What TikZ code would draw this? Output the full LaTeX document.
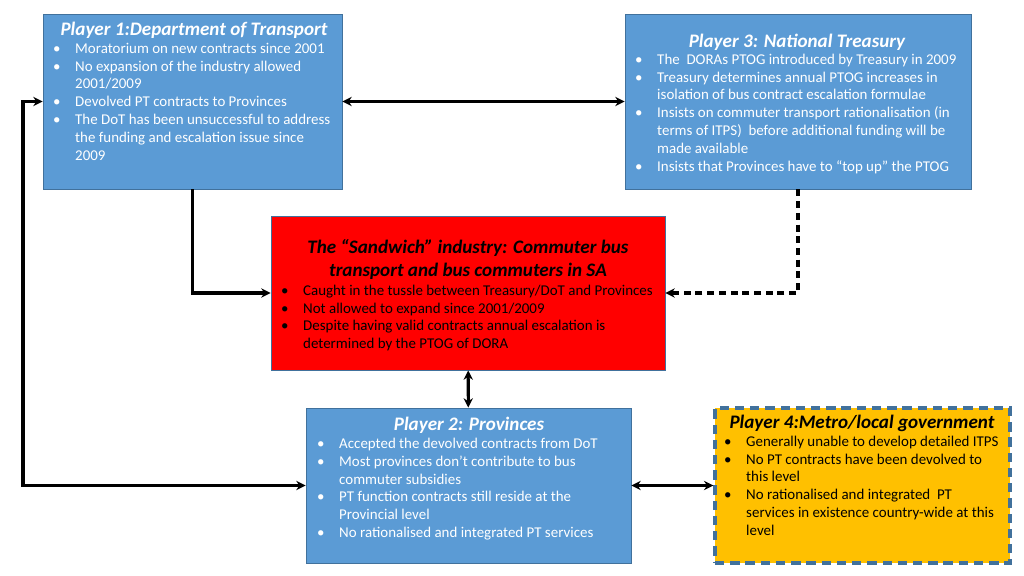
\documentclass[tikz,border=0pt]{standalone}
\usepackage{fontspec}
\setmainfont{Carlito}
\usetikzlibrary{arrows.meta}
\definecolor{boxblue}{HTML}{5B9BD5}
\definecolor{boxedge}{HTML}{41719C}
\definecolor{boxgold}{HTML}{FFC000}
\begin{document}
\begin{tikzpicture}[x=0.03cm,y=-0.03cm,
    player/.style={draw=boxedge,fill=boxblue,line width=0.7pt,inner sep=0pt},
    heading/.style={anchor=base,inner sep=0pt,align=center,
      font=\fontsize{16.3}{19.6}\selectfont\bfseries\itshape},
    points/.style={anchor=base west,inner sep=0pt,font=\fontsize{12.75}{15.36}\selectfont},
    arr/.style={line width=2.6pt,{Stealth[length=8pt,width=8pt]}-{Stealth[length=8pt,width=8pt]}},
    to/.style={line width=2.6pt,-{Stealth[length=8pt,width=8pt]}}]
  \useasboundingbox (0,0) rectangle (1024,575);
  % the four players and the industry
  \node[player,minimum width=8.97cm,minimum height=5.25cm] (p1) at (192.5,101.5) {};
  \node[player,minimum width=10.38cm,minimum height=5.25cm] (p3) at (798,101.5) {};
  \node[player,fill=red,minimum width=11.82cm,minimum height=4.62cm] (sandwich) at (468,293) {};
  \node[player,minimum width=9.75cm,minimum height=4.65cm] (p2) at (468.5,485.5) {};
  \node[player,fill=boxgold,line width=2.8pt,dash pattern=on 8pt off 5pt,
    minimum width=8.85cm,minimum height=4.65cm] (p4) at (862.5,485.5) {};
  % texts
  \node[heading,text=white] (p1title) at (194,35) {Player 1:Department of Transport};
  \node[points,text=white] (p1list) at (53,53) {\begin{tabular}[t]{@{}p{0.66cm}@{}l@{}}
    \textbullet & Moratorium on new contracts since 2001\\
    \textbullet & No expansion of the industry allowed\\
    & 2001/2009\\
    \textbullet & Devolved PT contracts to Provinces\\
    \textbullet & The DoT has been unsuccessful to address\\
    & the funding and escalation issue since\\
    & 2009
  \end{tabular}};
  \node[heading,text=white] (p3title) at (797,47) {Player 3: National Treasury};
  \node[points,text=white] (p3list) at (635,64) {\begin{tabular}[t]{@{}p{0.66cm}@{}l@{}}
    \textbullet & The\ \ DORAs PTOG introduced by Treasury in 2009\\
    \textbullet & Treasury determines annual PTOG increases in\\
    & isolation of bus contract escalation formulae\\
    \textbullet & Insists on commuter transport rationalisation (in\\
    & terms of ITPS)\ \ before additional funding will be\\
    & made available\\
    \textbullet & Insists that Provinces have to “top up” the PTOG
  \end{tabular}};
  \node[heading] (sandwichtitle) at (468,276) {The “Sandwich” industry: Commuter bus\\transport and bus commuters in SA};
  \node[points] (sandwichlist) at (281,295) {\begin{tabular}[t]{@{}p{0.66cm}@{}l@{}}
    \textbullet & Caught in the tussle between Treasury/DoT and Provinces\\
    \textbullet & Not allowed to expand since 2001/2009\\
    \textbullet & Despite having valid contracts annual escalation is\\
    & determined by the PTOG of DORA
  \end{tabular}};
  \node[heading,text=white] (p2title) at (469,430) {Player 2: Provinces};
  \node[points,text=white] (p2list) at (317,448) {\begin{tabular}[t]{@{}p{0.66cm}@{}l@{}}
    \textbullet & Accepted the devolved contracts from DoT\\
    \textbullet & Most provinces don’t contribute to bus\\
    & commuter subsidies\\
    \textbullet & PT function contracts still reside at the\\
    & Provincial level\\
    \textbullet & No rationalised and integrated PT services
  \end{tabular}};
  \node[heading] (p4title) at (862,428) {Player 4:Metro/local government};
  \node[points] (p4list) at (724,446) {\begin{tabular}[t]{@{}p{0.66cm}@{}l@{}}
    \textbullet & Generally unable to develop detailed ITPS\\
    \textbullet & No PT contracts have been devolved to\\
    & this level\\
    \textbullet & No rationalised and integrated\ \ PT\\
    & services in existence country-wide at this\\
    & level
  \end{tabular}};
  % connectors
  \coordinate (loop) at (23,300);
  \draw[arr] (p1) -- (p3);
  \draw[to] (p1.south) |- (sandwich.west);
  \draw[to,dash pattern=on 6pt off 4pt] (p3.south) |- (sandwich.east);
  \draw[arr] (sandwich) -- (p2);
  \draw[arr] (p2.west) -| (loop) |- (p1.west);
  \draw[arr] (p2) -- (p4);
\end{tikzpicture}
\end{document}
